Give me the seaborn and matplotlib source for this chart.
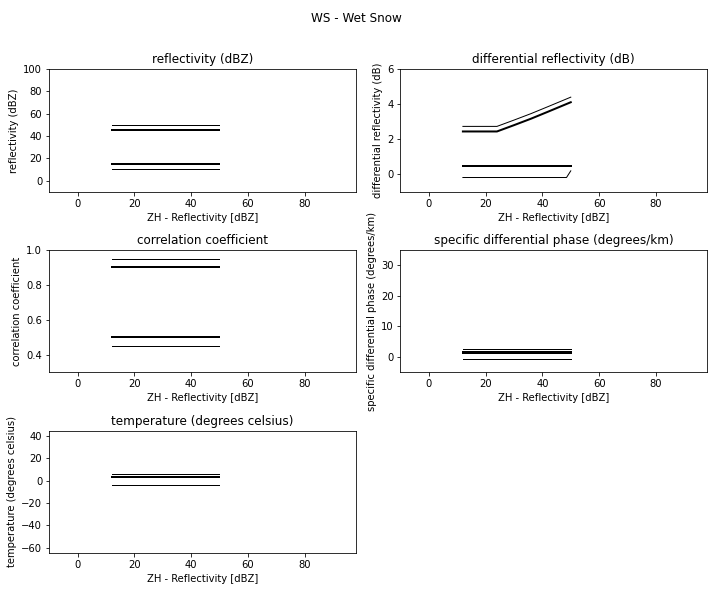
import numpy as np
import pandas as pd
import matplotlib
matplotlib.use('Agg')
import matplotlib.pyplot as plt
import seaborn as sns

# reflectivity points along x (dBZ)
zh_flat = [12, 50]
zh_zdr = [12, 24, 30, 36, 42, 50]
zh_zdr_low = [12, 48.5, 50]

# membership limits per variable: thin = outer, thick = inner
refl_thin = [[10, 10], [50, 50]]
refl_thick = [[15, 15], [45, 45]]

zdr_thin = [[-0.19, -0.19, 0.19], [2.73, 2.73, 3.09, 3.46, 3.86, 4.40]]
zdr_thick = [[0.47, 0.47], [2.44, 2.44, 2.80, 3.17, 3.57, 4.11]]

rho_thin = [[0.45, 0.45], [0.95, 0.95]]
rho_thick = [[0.5, 0.5], [0.9, 0.9]]

kdp_thin = [[-0.5, -0.5], [2.5, 2.5]]
kdp_thick = [[1.4, 1.4], [1.8, 1.8]]

temp_thin = [[-3.5, -3.5], [6, 6]]
temp_thick = [[3.3, 3.3], [3.8, 3.8]]

titles = ['reflectivity (dBZ)', 'differential reflectivity (dB)',
          'correlation coefficient', 'specific differential phase (degrees/km)',
          'temperature (degrees celsius)']
ylims = [(-10, 100), (-1, 6), (0.3, 1.0), (-5, 35), (-65, 45)]

fig, axes = plt.subplots(3, 2, figsize=(712 / 72, 591 / 72), dpi=72)
fig.subplots_adjust(left=0.069, right=0.993, top=0.883, bottom=0.064,
                    wspace=0.146, hspace=0.475)
axes = axes.flatten()


def draw(ax, xs_thin, ys_thin, xs_thick, ys_thick):
    for xs, ys in zip(xs_thin, ys_thin):
        sns.lineplot(x=xs, y=ys, ax=ax, color='k', linewidth=1, sort=False)
    for xs, ys in zip(xs_thick, ys_thick):
        sns.lineplot(x=xs, y=ys, ax=ax, color='k', linewidth=2, sort=False)


draw(axes[0], [zh_flat, zh_flat], refl_thin, [zh_flat, zh_flat], refl_thick)
draw(axes[1], [zh_zdr_low, zh_zdr], zdr_thin, [zh_flat, zh_zdr], zdr_thick)
draw(axes[2], [zh_flat, zh_flat], rho_thin, [zh_flat, zh_flat], rho_thick)
draw(axes[3], [zh_flat, zh_flat], kdp_thin, [zh_flat, zh_flat], kdp_thick)
draw(axes[4], [zh_flat, zh_flat], temp_thin, [zh_flat, zh_flat], temp_thick)

for ax, title, yl in zip(axes[:5], titles, ylims):
    ax.set_title(title)
    ax.set_ylabel(title)
    ax.set_xlabel('ZH - Reflectivity [dBZ]')
    ax.set_xlim(-10, 98)
    ax.set_ylim(*yl)
    ax.set_xticks([0, 20, 40, 60, 80])

axes[0].set_yticks([0, 20, 40, 60, 80, 100])
axes[2].set_yticks([0.4, 0.6, 0.8, 1.0])
axes[5].axis('off')

fig.suptitle('WS - Wet Snow')
fig.savefig('out.png', dpi=72)
